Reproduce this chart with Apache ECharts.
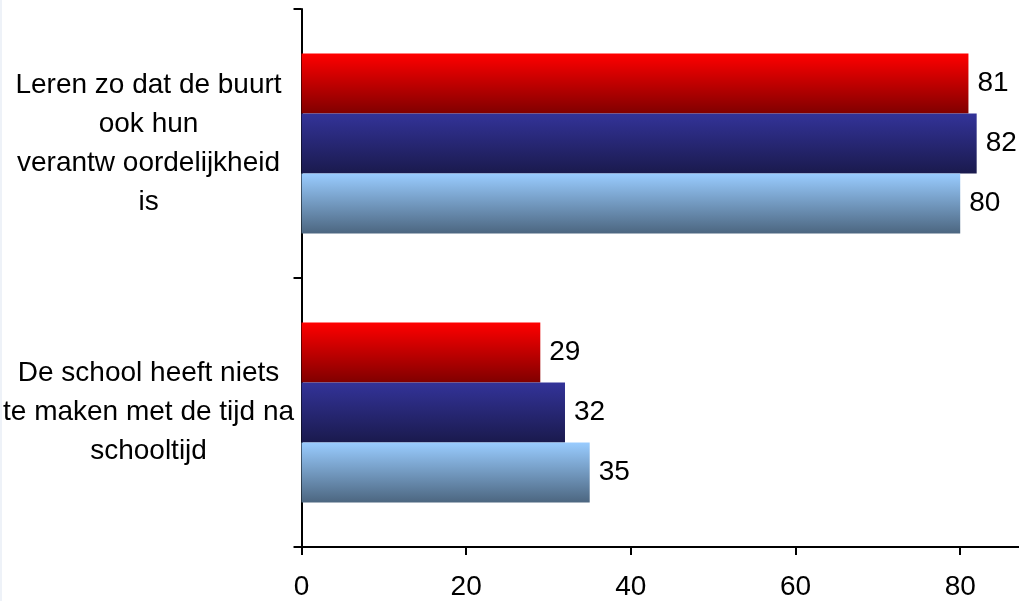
<!DOCTYPE html>
<html>
<head>
<meta charset="utf-8">
<script src="https://cdn.jsdelivr.net/npm/echarts@6/dist/echarts.min.js"></script>
<style>
html,body{margin:0;padding:0;background:#fff;}
#chart{width:1019px;height:601px;}
</style>
</head>
<body>
<div id="chart"></div>
<script>
const categories = [
  'Leren zo dat de buurt\nook hun\nverantw oordelijkheid\nis',
  'De school heeft niets\nte maken met de tijd na\nschooltijd'
];
const seriesA = [81, 29];
const seriesB = [82, 32];
const seriesC = [80, 35];
const xTicks = [0, 20, 40, 60, 80];

function grad(top, bottom) {
  return new echarts.graphic.LinearGradient(0, 0, 0, 1, [
    {offset: 0, color: top}, {offset: 1, color: bottom}
  ]);
}
const FONT = 'Liberation Sans, Arial, sans-serif';
const labelCfg = {show: true, position: 'right', distance: 9, color: '#000', fontSize: 28, fontFamily: FONT};

const chart = echarts.init(document.getElementById('chart'), null, {renderer: 'canvas'});
chart.setOption({
  backgroundColor: '#fff',
  animation: false,
  graphic: [{
    type: 'rect', left: 0, top: 0, shape: {width: 2, height: 601},
    style: {fill: '#eef2f8'}, silent: true, z: -1
  }],
  grid: {left: 300, right: -1, top: 9, bottom: 52, containLabel: false},
  xAxis: {
    type: 'value', min: 0, max: 87.14, interval: 20,
    splitLine: {show: false},
    axisLine: {show: true, lineStyle: {color: '#000', width: 2}},
    axisTick: {show: true, length: 8, lineStyle: {color: '#000', width: 2}},
    axisLabel: {
      show: true, margin: 26, color: '#000', fontSize: 28, fontFamily: FONT,
      showMaxLabel: false,
      formatter: v => (xTicks.indexOf(v) >= 0 ? String(v) : '')
    }
  },
  yAxis: {
    type: 'category', data: categories, inverse: true,
    axisLine: {show: true, lineStyle: {color: '#000', width: 2}},
    axisTick: {show: true, length: 8, lineStyle: {color: '#000', width: 2}},
    axisLabel: {
      show: true, margin: 153, align: 'center', color: '#000',
      fontSize: 28, lineHeight: 39, fontFamily: FONT
    }
  },
  series: [
    {type: 'bar', data: seriesA, barWidth: 60, barGap: '0%', itemStyle: {color: grad('#ff0000', '#800000')}, label: labelCfg},
    {type: 'bar', data: seriesB, barWidth: 60, barGap: '0%', itemStyle: {color: grad('#333399', '#1a1a4d')}, label: labelCfg},
    {type: 'bar', data: seriesC, barWidth: 60, barGap: '0%', itemStyle: {color: grad('#99ccff', '#4c6680')}, label: labelCfg}
  ]
});
</script>
</body>
</html>
